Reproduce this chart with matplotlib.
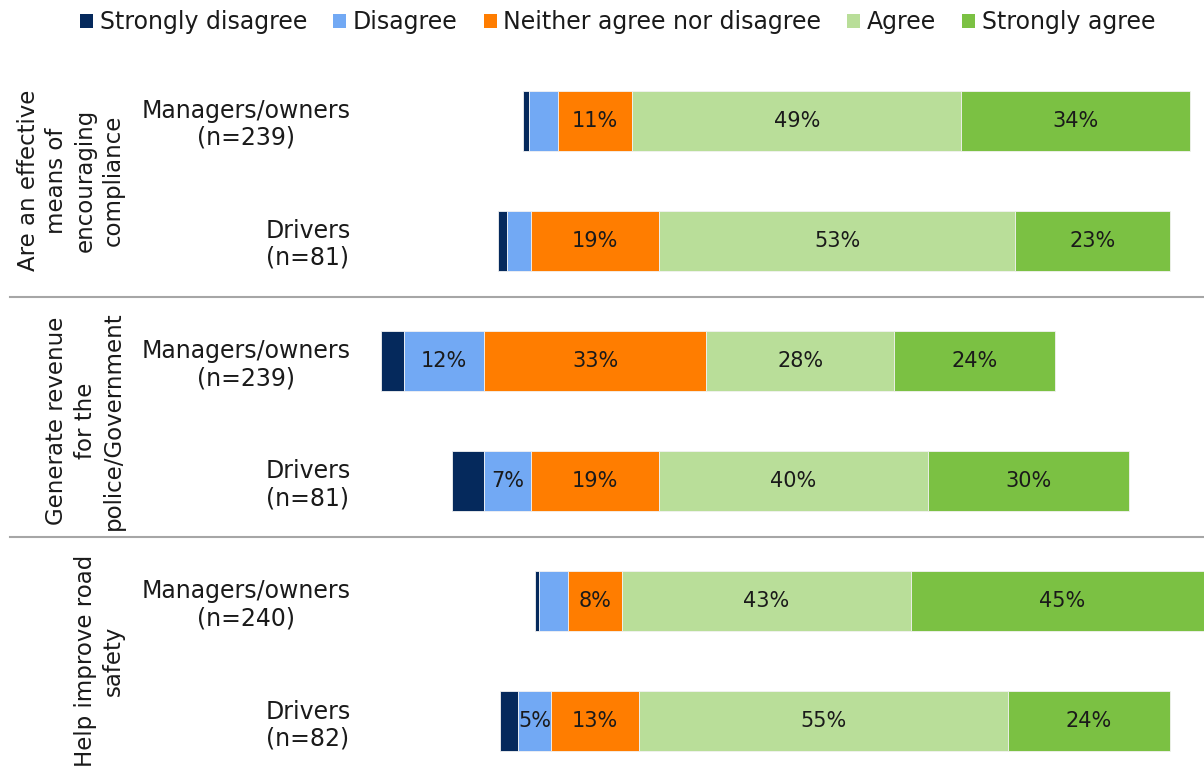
import matplotlib
matplotlib.use("Agg")
import matplotlib.pyplot as plt
from matplotlib.patches import Patch
from matplotlib.lines import Line2D
from matplotlib.transforms import blended_transform_factory
import numpy as np

plt.rcParams['font.family'] = ['DejaVu Sans']

# Survey responses (% of respondents)
responses = ["Strongly disagree", "Disagree", "Neither agree nor disagree",
             "Agree", "Strongly agree"]
colors = ["#05295C", "#72A9F4", "#FF7D00", "#B9DE99", "#7BC143"]

statements = ["Are an effective\nmeans of\nencouraging\ncompliance",
              "Generate revenue\nfor the\npolice/Government",
              "Help improve road\nsafety"]

row_labels = ["Managers/owners\n(n=239)", "Drivers\n(n=81)",
              "Managers/owners\n(n=239)", "Drivers\n(n=81)",
              "Managers/owners\n(n=240)", "Drivers\n(n=82)"]

strongly_disagree = [0.9, 1.3, 3.3, 4.8, 0.6, 2.7]
disagree = [4.3, 3.6, 12, 7, 4.3, 5]
neither = [11, 19, 33, 19, 8, 13]
agree = [49, 53, 28, 40, 43, 55]
strongly_agree = [34, 23, 24, 30, 45, 24]

series = [strongly_disagree, disagree, neither, agree, strongly_agree]

fig = plt.figure(figsize=(12.04, 7.71), dpi=100)
ax = fig.add_axes([370 / 1204, 0.0, 1 - 370 / 1204, 1 - 60 / 771])

n = len(row_labels)
y = np.arange(n)
vals = np.array(series, dtype=float)

# Diverging layout: bars centred on the middle of the neutral segment
left = -(vals[0] + vals[1] + vals[2] / 2)
for k, (name, col) in enumerate(zip(responses, colors)):
    ax.barh(y, vals[k], left=left, height=0.5, color=col,
            edgecolor="#f2f2f2", linewidth=0.6, label=name)
    for i in range(n):
        v = vals[k][i]
        if v >= 5:
            ax.text(left[i] + v / 2, y[i], f"{v:.0f}%", ha="center",
                    va="center", fontsize=15, color="#1a1a1a")
    left = left + vals[k]

ax.set_xlim(-33.5, 90.6)
ax.set_ylim(5.416, -0.504)
ax.set_yticks(y)
ax.set_yticklabels(row_labels, fontsize=17, color="#1a1a1a")
for lab in ax.get_yticklabels():
    lab.set_multialignment("center")
    lab.set_linespacing(1.15)
ax.tick_params(axis="y", length=0, pad=14)
ax.tick_params(axis="x", bottom=False, labelbottom=False)
for s in ax.spines.values():
    s.set_visible(False)

# Separators between the statement groups, spanning the label area
tr = blended_transform_factory(fig.transFigure, ax.transData)
for ysep in (1.47, 3.47):
    fig.add_artist(Line2D([10 / 1204, 1.0], [ysep, ysep], transform=tr,
                          color="#a6a6a6", linewidth=1.5))

# Rotated statement labels
for g, txt in enumerate(statements):
    fig.text(125 / 1204, 2 * g + 0.5, txt, transform=tr, rotation=90,
             ha="right", va="center", multialignment="center",
             fontsize=16.5, color="#1a1a1a", linespacing=1.3)

handles = [Patch(facecolor=c, edgecolor="none") for c in colors]
fig.legend(handles, responses, loc="center", ncol=5,
           bbox_to_anchor=(0.513, 1 - 22 / 771), frameon=False,
           fontsize=17, handlelength=0.55, handleheight=0.55,
           handletextpad=0.28, columnspacing=1.1, labelcolor="#1a1a1a")

fig.savefig("out.png", dpi=100)
